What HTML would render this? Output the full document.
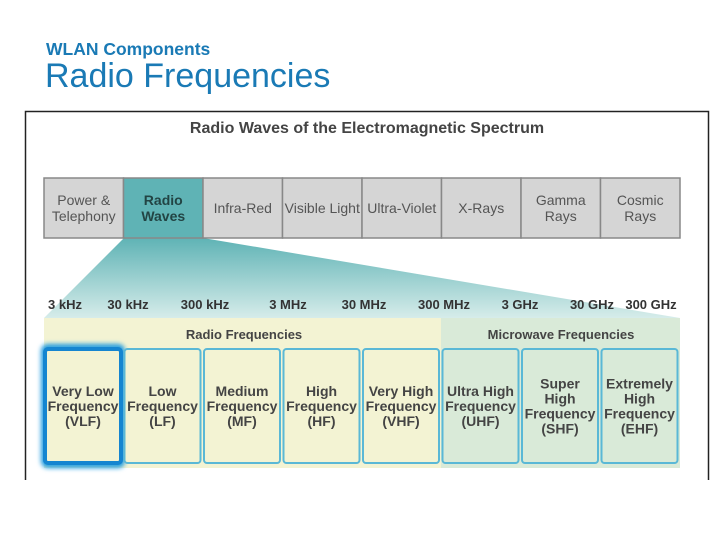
<!DOCTYPE html>
<html><head><meta charset="utf-8"><style>
body{margin:0;background:#fff;width:720px;height:540px;overflow:hidden;font-family:"Liberation Sans",sans-serif;}
</style></head><body>
<svg width="720" height="540" viewBox="0 0 720 540" xmlns="http://www.w3.org/2000/svg" font-family="Liberation Sans, sans-serif">
<defs>
<linearGradient id="fun" x1="0" y1="0" x2="0" y2="1">
<stop offset="0" stop-color="#5fb3b5"/><stop offset="1" stop-color="#d6ecea"/></linearGradient>
<filter id="glow" x="-20%" y="-20%" width="140%" height="140%"><feGaussianBlur stdDeviation="2.5"/></filter>
</defs>
<text x="46" y="55" font-size="17.5" font-weight="bold" fill="#1a7ab5">WLAN Components</text>
<text x="45" y="87" font-size="34" fill="#1a7ab5">Radio Frequencies</text>
<path d="M25.5 480 V111.5 H708.5 V480" fill="none" stroke="#222" stroke-width="1.5"/>
<text x="367" y="133" font-size="16" font-weight="bold" fill="#444" text-anchor="middle">Radio Waves of the Electromagnetic Spectrum</text>
<polygon points="124,238 203,238 680,318 44,318" fill="url(#fun)"/>
<g id="topRow"></g>
<g id="freqs"></g>
<rect x="44" y="318" width="397" height="150" fill="#f3f3d3"/>
<rect x="441" y="318" width="239" height="150" fill="#d9ead8"/>
<text x="244" y="339" font-size="13" font-weight="bold" fill="#444" text-anchor="middle">Radio Frequencies</text>
<text x="561" y="339" font-size="13" font-weight="bold" fill="#444" text-anchor="middle">Microwave Frequencies</text>
<g id="cells"></g>
</svg>
<script>
const NS="http://www.w3.org/2000/svg";
const topLabels=[["Power &","Telephony"],["Radio","Waves"],["Infra-Red"],["Visible Light"],["Ultra-Violet"],["X-Rays"],["Gamma","Rays"],["Cosmic","Rays"]];
const freqLabels=["3 kHz","30 kHz","300 kHz","3 MHz","30 MHz","300 MHz","3 GHz","30 GHz","300 GHz"];
const freqX=[65,128,205,288,364,444,520,592,651];
const cellLabels=[["Very Low","Frequency","(VLF)"],["Low","Frequency","(LF)"],["Medium","Frequency","(MF)"],["High","Frequency","(HF)"],["Very High","Frequency","(VHF)"],["Ultra High","Frequency","(UHF)"],["Super","High","Frequency","(SHF)"],["Extremely","High","Frequency","(EHF)"]];
(function(){
function mk(t,a,p,txt){const e=document.createElementNS(NS,t);for(const k in a)e.setAttribute(k,a[k]);if(txt!==undefined)e.textContent=txt;p.appendChild(e);return e;}
const topG=document.getElementById('topRow');
const w=79.5;
topLabels.forEach((L,i)=>{
 const x=44+i*w;
 const r=mk('rect',{x:x,y:178,width:w,height:60,fill:i==1?'#5fb3b5':'#d5d5d5',stroke:'#888','stroke-width':1.5},topG);
 
 
 const y0=208-(L.length-1)*8+5;
 L.forEach((s,j)=>{const t=mk('text',{x:x+w/2,y:y0+j*16,'font-size':14,'font-weight':i==1?'bold':'normal',fill:i==1?'#244':'#555','text-anchor':'middle'},topG,s);
 
 });
});
const fr=document.getElementById('freqs');
freqLabels.forEach((s,i)=>{const t=mk('text',{x:freqX[i],y:309,'font-size':13,'font-weight':'bold',fill:'#333','text-anchor':'middle'},fr,s);
 
 });
const cells=document.getElementById('cells');
cellLabels.forEach((L,i)=>{
 const x=45+i*79.5;
 if(i==0){const g=mk('rect',{x:x-1,y:347,width:78,height:118,rx:4,fill:'none',stroke:'#1a9ae0','stroke-width':6,filter:'url(#glow)'},cells);
  
  }
 const r=mk('rect',{x:x,y:349,width:76,height:114,rx:3,fill:i<5?'#f3f3d3':'#d9ead8',stroke:i==0?'#1585d0':'#5ab8d6','stroke-width':i==0?4:2},cells);
 
 
 const y0=406-(L.length-1)*7.5+5;
 L.forEach((s,j)=>{const t=mk('text',{x:x+38,y:y0+j*15,'font-size':14,'font-weight':'bold',fill:'#444','text-anchor':'middle'},cells,s);
  
  });
});
})();
</script>
</body></html>
